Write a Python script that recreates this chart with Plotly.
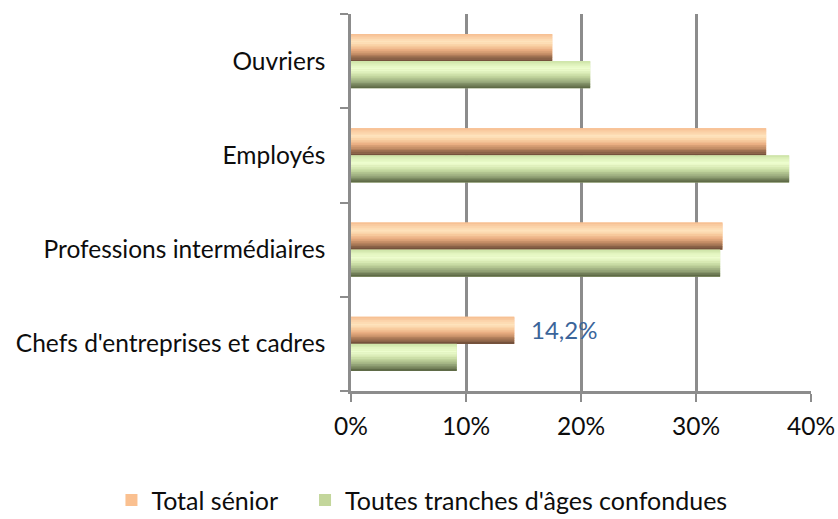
import plotly.graph_objects as go

# ---- data ----
categories = ["Chefs d'entreprises et cadres", "Professions intermédiaires", "Employés", "Ouvriers"]
total_senior = [14.2, 32.3, 36.1, 17.5]
toutes_tranches = [9.2, 32.1, 38.1, 20.8]
series_names = ["Total sénior", "Toutes tranches d'âges confondues"]
x_ticks = [0, 10, 20, 30, 40]
x_tick_labels = ["0%", "10%", "20%", "30%", "40%"]
labelled_category = "Chefs d'entreprises et cadres"

# ---- style ----
FONT = "Lato"
FS = 24.5
BAR_W = 0.287
N_STRIPS = 16
orange_stops = [(0.0, "#F6BC8E"), (0.15, "#FBD2A9"), (0.3, "#FFE5BF"), (0.45, "#F8CDA0"),
                (0.6, "#E9AE82"), (0.75, "#BF8962"), (0.9, "#8C6448"), (1.0, "#6A4A36")]
green_stops = [(0.0, "#CBE2A6"), (0.15, "#E1F4BE"), (0.3, "#EFFED0"), (0.45, "#DAECB6"),
               (0.6, "#BFD29B"), (0.75, "#9DAD7F"), (0.9, "#74815B"), (1.0, "#55613E")]


def hex2rgb(h):
    h = h.lstrip("#")
    return tuple(int(h[i:i + 2], 16) for i in (0, 2, 4))


def interp(stops, t):
    for (p0, c0), (p1, c1) in zip(stops[:-1], stops[1:]):
        if p0 <= t <= p1:
            f = (t - p0) / (p1 - p0) if p1 > p0 else 0
            a, b = hex2rgb(c0), hex2rgb(c1)
            return "rgb(%d,%d,%d)" % tuple(round(a[i] + (b[i] - a[i]) * f) for i in range(3))
    return stops[-1][1]


fig = go.Figure()

# main traces (legend + base colour)
fig.add_trace(go.Bar(y=categories, x=total_senior, orientation="h", name=series_names[0],
                     marker=dict(color="#FAC090", line=dict(width=0)),
                     offset=0, width=BAR_W, hoverinfo="x+name", legend="legend"))
fig.add_trace(go.Bar(y=categories, x=toutes_tranches, orientation="h", name=series_names[1],
                     marker=dict(color="#C3D69B", line=dict(width=0)),
                     offset=-BAR_W, width=BAR_W, hoverinfo="x+name", legend="legend2"))

# gradient strips drawn over the bars
for values, stops, top in ((total_senior, orange_stops, BAR_W), (toutes_tranches, green_stops, 0.0)):
    sw = BAR_W / N_STRIPS
    for k in range(N_STRIPS):
        t = (k + 0.5) / N_STRIPS
        off = top - (k + 1) * sw
        fig.add_trace(go.Bar(y=categories, x=values, orientation="h", showlegend=False,
                             marker=dict(color=interp(stops, t), line=dict(width=0)),
                             offset=off - 0.002, width=sw + 0.004, hoverinfo="skip"))

# data label
idx = categories.index(labelled_category)
v = total_senior[idx]
fig.add_annotation(x=v, y=labelled_category, text=f"{v:.1f}%".replace(".", ","),
                   showarrow=False, xanchor="left", yanchor="middle", xshift=15, yshift=14,
                   font=dict(family=FONT, size=24, color="#3B659A"))

leg_common = dict(orientation="h", xref="container", yref="container", yanchor="middle",
                  xanchor="left", y=0.036, font=dict(family=FONT, size=25, color="#0D0D0D"),
                  bgcolor="rgba(0,0,0,0)")
fig.update_layout(
    width=838, height=519,
    margin=dict(l=351, r=27, t=14, b=128, autoexpand=False),
    barmode="overlay",
    plot_bgcolor="white", paper_bgcolor="white",
    font=dict(family=FONT, size=FS, color="#0D0D0D"),
    legend=dict(x=0.133, **leg_common),
    legend2=dict(x=0.364, **leg_common),
    showlegend=True,
)
fig.update_xaxes(range=[0, 40], tickvals=x_ticks, ticktext=x_tick_labels,
                 showgrid=True, gridcolor="#8C8C8C", gridwidth=2.5,
                 showline=True, linecolor="#8C8C8C", linewidth=2.5,
                 ticks="outside", ticklen=8, tickcolor="#8C8C8C", tickwidth=1.5,
                 zeroline=False, ticklabelstandoff=4, fixedrange=True, automargin=False)
fig.update_yaxes(categoryorder="array", categoryarray=categories,
                 tickson="boundaries", ticks="outside", ticklen=8, tickcolor="#8C8C8C", tickwidth=1.5,
                 showline=True, linecolor="#8C8C8C", linewidth=2.5,
                 showgrid=False, ticklabelstandoff=18, fixedrange=True, automargin=False)

fig.write_html("out.html", config={"displayModeBar": False},
               post_script="document.body.style.margin='0';")
